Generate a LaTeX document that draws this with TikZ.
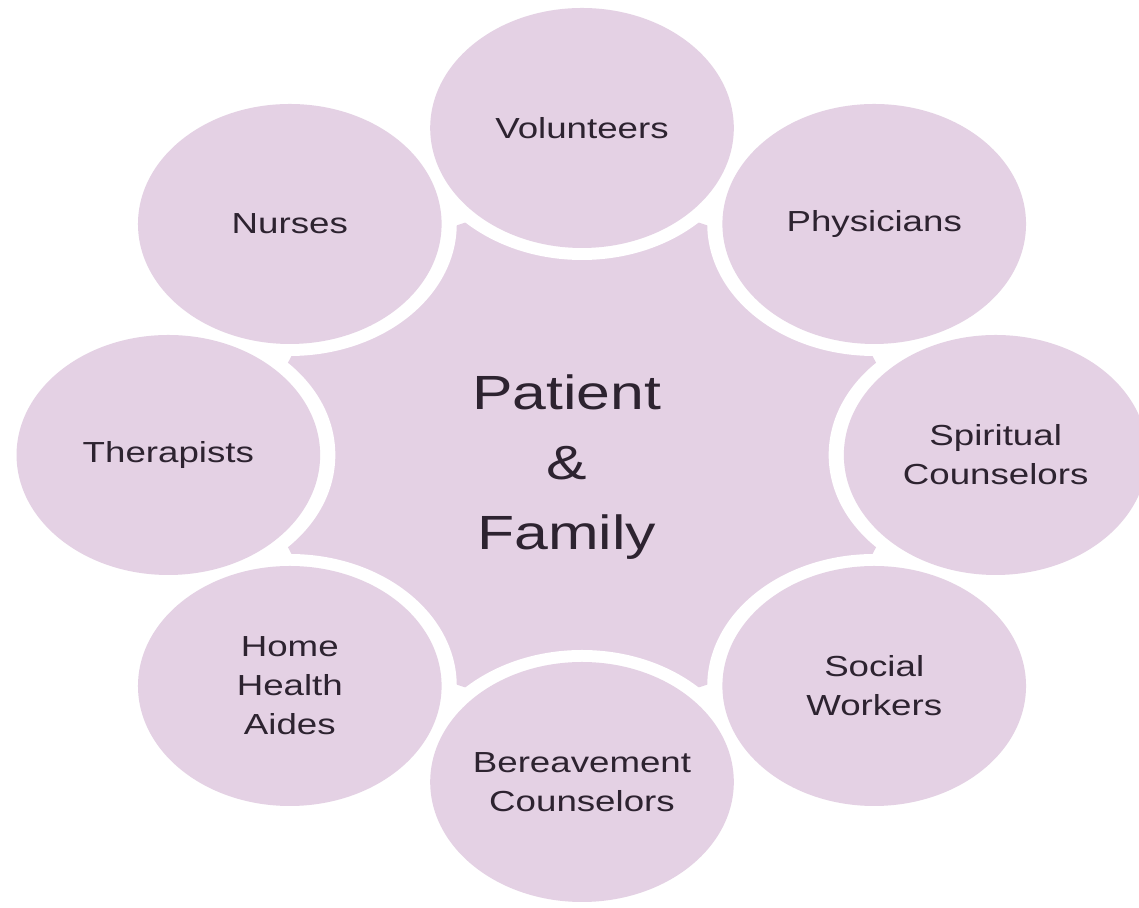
\documentclass[tikz,border=0pt]{standalone}
\usepackage{fontspec}
\setmainfont{Liberation Sans}
\definecolor{lilac}{RGB}{228,209,228}
\definecolor{ink}{RGB}{45,35,48}
\tikzset{
	member/.style={circle, fill=lilac, minimum size=120pt, inner sep=0pt, align=center, text=ink, font=\fontsize{14.5}{19.5}\selectfont},
	hub/.style={circle, fill=lilac, minimum size=250pt, inner sep=0pt},
	hubtext/.style={align=center, text=ink, inner sep=0pt, font=\fontsize{24}{35}\selectfont},
	whitegap/.style={fill=white}
}

\begin{document}
\begin{tikzpicture}[x=0.5pt, y=0.5pt]
			%%%%% START %%%%%
			
			\clip (0, 0) rectangle (1139, 908);
			
			\begin{scope}[shift={(582, 453)}, xscale=1.265, transform shape]
			
			\node[hub] (centre) at (0, 0) {};
			\node[hubtext] (family) at (-12, -12) {Patient\\\&\\Family};
			
			\fill[whitegap] (0, 327) circle (132);
			\fill[whitegap] (231, 231) circle (132);
			\fill[whitegap] (327, 0) circle (132);
			\fill[whitegap] (231, -231) circle (132);
			\fill[whitegap] (0, -327) circle (132);
			\fill[whitegap] (-231, -231) circle (132);
			\fill[whitegap] (-327, 0) circle (132);
			\fill[whitegap] (-231, 231) circle (132);
			
			\node[member] (volunteers) at (0, 327) {Volunteers};
			\node[member] (physicians) at (231, 231) {Physicians};
			\node[member] (spiritual) at (327, 0) {Spiritual\\Counselors};
			\node[member] (social) at (231, -231) {Social\\Workers};
			\node[member] (bereavement) at (0, -327) {Bereavement\\Counselors};
			\node[member] (aides) at (-231, -231) {Home\\Health\\Aides};
			\node[member] (therapists) at (-327, 0) {Therapists};
			\node[member] (nurses) at (-231, 231) {Nurses};
			
			\end{scope}
			
			%%%%% END %%%%%
\end{tikzpicture}
\end{document}
